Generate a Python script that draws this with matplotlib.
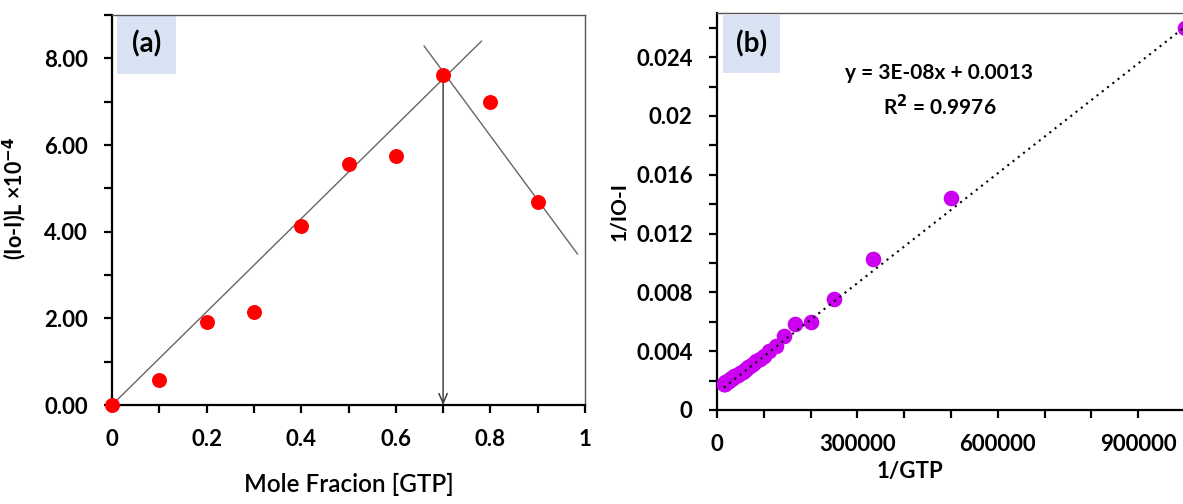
import numpy as np
import matplotlib.pyplot as plt
from matplotlib.patches import Rectangle
from matplotlib.ticker import MultipleLocator, FormatStrFormatter

plt.rcParams['font.family'] = ['Lato', 'DejaVu Sans']
plt.rcParams['font.weight'] = 'bold'

# Panel (a): Job plot
mole_frac = [0.0, 0.1, 0.2, 0.3, 0.4, 0.5, 0.6, 0.7, 0.8, 0.9]
signal_a = [0.0, 0.58, 1.91, 2.15, 4.13, 5.56, 5.75, 7.62, 7.0, 4.69]
# guide lines (x range, slope, intercept)
rise_x = [0.0, 0.781]
rise_slope, rise_icpt = 10.75, 0.0
fall_x = [0.66, 0.984]
fall_slope, fall_icpt = -14.8, 18.05
stoich_x = 0.7
stoich_y = 7.62

# Panel (b): double reciprocal plot
inv_gtp = [1000000, 500000, 333333, 250000, 200000, 166667, 142857, 125000,
           111111, 100000, 90909, 83333, 76923, 71429, 66667, 62500, 58824,
           55556, 52632, 50000, 45455, 41667, 38462, 35714, 33333, 31250,
           29412, 27778, 25000, 22727, 20833, 19231, 17857, 16667, 15625, 14706]
inv_signal = [0.0260, 0.0144, 0.0103, 0.00757, 0.00598, 0.00585, 0.00503, 0.00437,
              0.0040, 0.0037, 0.0035, 0.0033, 0.0031, 0.0030, 0.0029, 0.0028, 0.0027,
              0.0026, 0.0026, 0.0025, 0.0024, 0.0024, 0.0023, 0.0023, 0.0022, 0.0022,
              0.0021, 0.0021, 0.0020, 0.0020, 0.0019, 0.0019, 0.0019, 0.0018, 0.0018, 0.0018]
trend_slope, trend_icpt = 2.49e-8, 0.00116
eq_text = 'y = 3E-08x + 0.0013'
r2_text = 'R$^2$ = 0.9976'

W, H = 1183, 504
fig = plt.figure(figsize=(W / 100, H / 100), dpi=100)

def px_axes(left, right, bottom, top):
    return fig.add_axes([left / W, 1 - bottom / H, (right - left) / W, (bottom - top) / H])

def style(ax):
    for s in ['left', 'bottom']:
        ax.spines[s].set_color('black')
        ax.spines[s].set_linewidth(1.6)
    for s in ['top', 'right']:
        ax.spines[s].set_color('#555555')
        ax.spines[s].set_linewidth(1.0)
    ax.tick_params(which='both', direction='out', width=1.6, color='black', labelsize=16)
    ax.tick_params(which='major', length=5.5, pad=12)
    ax.tick_params(which='minor', length=5.5)

def tag(ax, x0, y0, w, h, txt):
    # light blue panel label box, in axes fraction
    ax.add_patch(Rectangle((x0, y0), w, h, transform=ax.transAxes,
                           facecolor='#dae3f3', edgecolor='none', zorder=1))
    ax.text(x0 + w / 2, y0 + h / 2, txt, transform=ax.transAxes, ha='center',
            va='center', fontsize=20, fontweight='bold', zorder=2)

''' Panel (a) '''
ax1 = px_axes(112, 585, 405, 15)
ax1.set_xlim(0, 1)
ax1.set_ylim(0, 9)
rx = np.array(rise_x)
ax1.plot(rx, rise_slope * rx + rise_icpt, color='#666666', lw=1.0, zorder=2)
fx = np.array(fall_x)
ax1.plot(fx, fall_slope * fx + fall_icpt, color='#666666', lw=1.0, zorder=2)
ax1.annotate('', xy=(stoich_x, 0), xytext=(stoich_x, stoich_y),
             arrowprops=dict(arrowstyle='->, head_length=0.7, head_width=0.3',
                             color='#333333', lw=1.0, shrinkA=0, shrinkB=0), zorder=2)
ax1.scatter(mole_frac, signal_a, s=95, color='#ff0000', zorder=3, clip_on=False)
ax1.xaxis.set_major_locator(MultipleLocator(0.2))
ax1.xaxis.set_minor_locator(MultipleLocator(0.1))
ax1.yaxis.set_major_locator(MultipleLocator(2))
ax1.yaxis.set_minor_locator(MultipleLocator(1))
ax1.yaxis.set_major_formatter(FormatStrFormatter('%.2f'))
ax1.set_xticks([0, 0.2, 0.4, 0.6, 0.8, 1.0], ['0', '0.2', '0.4', '0.6', '0.8', '1'])
style(ax1)
ax1.set_xlabel('Mole Fracion [GTP]', fontsize=17.5, fontweight='semibold')
ax1.xaxis.set_label_coords(0.5, -0.175)
ax1.set_ylabel('(Io-I)L ×10$^{-4}$', fontsize=15.5, fontweight='bold')
ax1.yaxis.set_label_coords(-0.176, 0.53)
tag(ax1, 0.01, 0.85, 0.125, 0.15, '(a)')

''' Panel (b) '''
ax2 = px_axes(717, 717 + 468 * 1.02, 410, 13)
ax2.set_xlim(0, 1020000)
ax2.set_ylim(0, 0.027)
tx = np.array([min(inv_gtp), max(inv_gtp)])
ax2.plot(tx, trend_slope * tx + trend_icpt, color='black', lw=1.5,
         linestyle=(0, (1, 2.2)), zorder=4)
ax2.scatter(inv_gtp, inv_signal, s=105, color='#cc00f0', zorder=3)
ax2.xaxis.set_major_locator(MultipleLocator(300000))
ax2.xaxis.set_minor_locator(MultipleLocator(100000))
ax2.yaxis.set_major_locator(MultipleLocator(0.004))
ax2.yaxis.set_minor_locator(MultipleLocator(0.002))
ax2.set_yticks([0, 0.004, 0.008, 0.012, 0.016, 0.02, 0.024],
               ['0', '0.004', '0.008', '0.012', '0.016', '0.02', '0.024'])
ax2.set_xticks([0, 300000, 600000, 900000], ['0', '300000', '600000', '900000'])
style(ax2)
ax2.spines['right'].set_visible(False)
ax2.set_xlabel('1/GTP', fontsize=16, fontweight='bold')
ax2.xaxis.set_label_coords(0.404, -0.128)
ax2.set_ylabel('1/IO-I', fontsize=15, fontweight='bold')
ax2.yaxis.set_label_coords(-0.185, 0.5)
ax2.text(0.466, 0.848, eq_text, transform=ax2.transAxes, ha='center', va='center',
         fontsize=15, fontweight='bold')
ax2.text(0.466, 0.765, r2_text, transform=ax2.transAxes, ha='center', va='center',
         fontsize=15, fontweight='bold')
tag(ax2, 0.013, 0.85, 0.12, 0.146, '(b)')

fig.savefig('out.png', dpi=100)
